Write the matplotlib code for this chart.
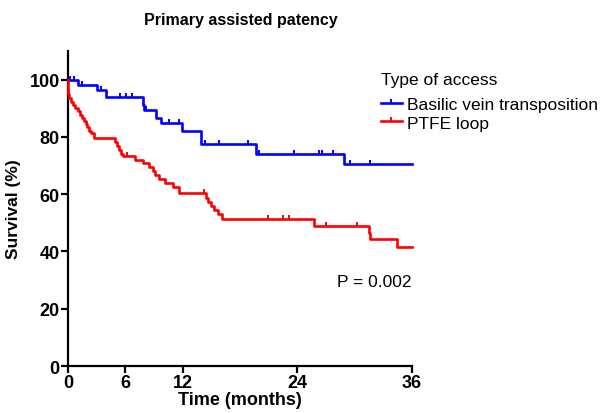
import numpy as np
import matplotlib
matplotlib.use("Agg")
import matplotlib.pyplot as plt
from matplotlib.lines import Line2D

plt.rcParams['font.family'] = ['Liberation Sans', 'DejaVu Sans']

# ---- data ----
bvt_times = [0, 1.05, 3.0, 3.95, 7.8, 8.0, 9.2, 9.7, 11.95, 13.9, 19.7, 28.9]
bvt_surv  = [100, 98.0, 96.3, 93.8, 91.3, 89.4, 86.5, 84.7, 82.0, 77.4, 74.2, 70.6]
bvt_censor = [0.2, 0.6, 1.5, 3.5, 5.4, 6.05, 6.65, 8.2, 10.6, 11.6, 14.3, 15.8,
              18.8, 20.0, 23.7, 26.3, 26.6, 27.7, 29.5, 31.6]

ptfe_times = [0, 0.02, 0.1, 0.3, 0.5, 0.75, 1.0, 1.25, 1.45, 1.65, 1.85, 2.0, 2.2,
              2.45, 2.75, 4.9, 5.1, 5.35, 5.55, 5.8, 7.0, 7.8, 8.5, 8.85, 9.1,
              9.5, 10.2, 11.0, 11.6, 14.4, 14.7, 15.0, 15.3, 15.7, 16.1, 25.7,
              31.5, 31.6, 34.4]
ptfe_surv  = [100, 95.0, 93.5, 92.2, 91.2, 90.0, 88.9, 87.7, 86.6, 85.6, 84.5, 83.3,
              82.1, 81.2, 79.6, 78.2, 76.8, 75.5, 74.2, 73.2, 72.1, 70.8, 69.6,
              68.2, 66.8, 65.3, 64.0, 62.4, 60.3, 58.8, 57.1, 55.8, 54.5, 53.0,
              51.2, 48.9, 46.6, 44.2, 41.7]
ptfe_censor = [6.2, 14.2, 20.9, 22.5, 23.1, 27.0, 30.2]

t_end = 36
x_ticks = [0, 6, 12, 24, 36]
y_ticks = [0, 20, 40, 60, 80, 100]

series = [
    ("Basilic vein transposition", "#0000ff", bvt_times, bvt_surv, bvt_censor),
    ("PTFE loop", "#ff0000", ptfe_times, ptfe_surv, ptfe_censor),
]

fig = plt.figure(figsize=(6.02, 4.14), dpi=100)
ax = fig.add_axes([68/602, 1-367/414, 344/602, (367-52)/414])

handles = []
for name, col, t, s, cens in series:
    tt = list(t) + [t_end]
    ss = list(s) + [s[-1]]
    ax.step(tt, ss, where='post', color=col, lw=1.9, clip_on=False, zorder=3)
    idx = np.searchsorted(np.array(t), np.array(cens), side='right') - 1
    cy = np.array(s)[idx]
    ax.plot(cens, cy, linestyle='none', marker=2, markersize=3,
            markeredgewidth=1.4, color=col, zorder=3, clip_on=False)
    handles.append(Line2D([], [], color=col, lw=1.9, marker=2, markersize=3,
                          markeredgewidth=1.4))

ax.set_xlim(0, 36)
ax.set_ylim(0, 110)
ax.set_xticks(x_ticks)
ax.set_yticks(y_ticks)
for sp in ['top', 'right']:
    ax.spines[sp].set_visible(False)
for sp in ['left', 'bottom']:
    ax.spines[sp].set_linewidth(1.6)
ax.tick_params(direction='out', length=5, width=1.6, labelsize=13, pad=1)
for lab in ax.get_xticklabels() + ax.get_yticklabels():
    lab.set_fontweight('bold')

ax.set_xlabel("Time (months)", fontsize=13, fontweight='bold', labelpad=0)
ax.set_ylabel("Survival (%)", fontsize=12.5, fontweight='bold', labelpad=6)
fig.text(241/602, 1-20/414, "Primary assisted patency", fontsize=11.5,
         fontweight='bold', ha='center', va='center')

ax.text(32.0, 29.6, "P = 0.002", fontsize=12.5, ha='center', va='center')

leg = ax.legend(handles, [s[0] for s in series], title="Type of access",
                loc='upper left', bbox_to_anchor=(381/602, 1-73/414),
                bbox_transform=fig.transFigure, frameon=False, fontsize=12.5,
                title_fontsize=12.5, alignment='left', handlelength=1.2,
                handletextpad=0.3, labelspacing=0.2, borderpad=0,
                borderaxespad=0, numpoints=1)
leg._legend_box.sep = 7

fig.savefig("out.png", dpi=100)
